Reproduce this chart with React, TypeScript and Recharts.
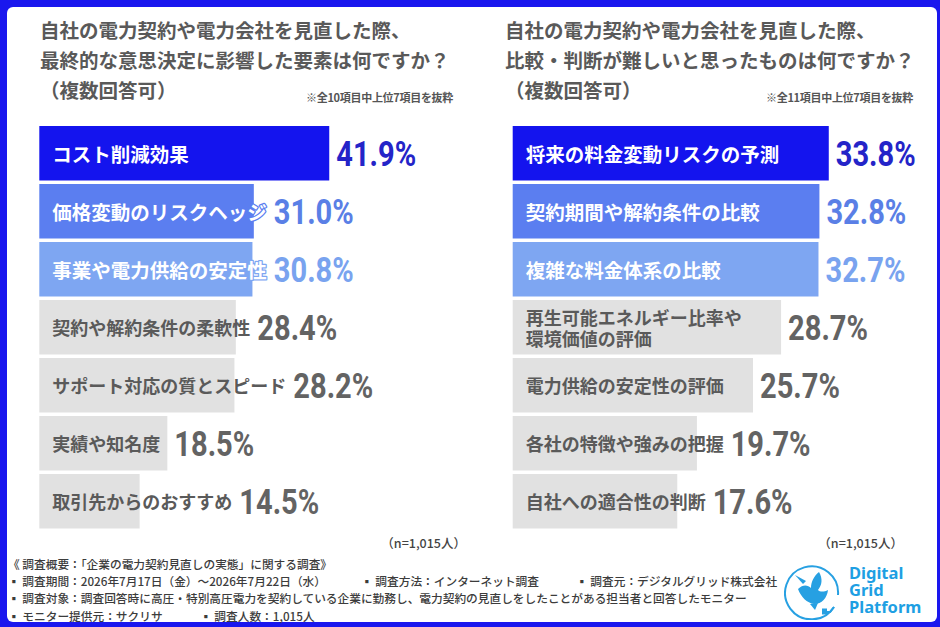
import React from 'react'
import { BarChart, Bar, XAxis, YAxis } from 'recharts'

const leftCategories = [
  'コスト削減効果',
  '価格変動のリスクヘッジ',
  '事業や電力供給の安定性',
  '契約や解約条件の柔軟性',
  'サポート対応の質とスピード',
  '実績や知名度',
  '取引先からのおすすめ',
]
const leftValues = [41.9, 31.0, 30.8, 28.4, 28.2, 18.5, 14.5]

const rightCategories = [
  '将来の料金変動リスクの予測',
  '契約期間や解約条件の比較',
  '複雑な料金体系の比較',
  '再生可能エネルギー比率や\n環境価値の評価',
  '電力供給の安定性の評価',
  '各社の特徴や強みの把握',
  '自社への適合性の判断',
]
const rightValues = [33.8, 32.8, 32.7, 28.7, 25.7, 19.7, 17.6]

const barFills = ['#1414ee', '#5b7ef0', '#7ea6f2', '#e1e1e1', '#e1e1e1', '#e1e1e1', '#e1e1e1']
const valueFills = ['#2424c8', '#5a7fe6', '#79a3ef', '#636363', '#636363', '#636363', '#636363']
const labelFills = ['#ffffff', '#ffffff', '#ffffff', '#5a5a5a', '#5a5a5a', '#5a5a5a', '#5a5a5a']

const JP = '"Noto Sans CJK JP", "Noto Sans", sans-serif'

let ctx: CanvasRenderingContext2D | null = null
const measure = (text: string, font: string, size: number) => {
  if (!ctx && typeof document !== 'undefined') ctx = document.createElement('canvas').getContext('2d')
  if (!ctx) return text.length * size
  ctx.font = font
  return ctx.measureText(text).width
}

const makeShape = (cats: string[]) => (props: any) => {
  const { x, y, width, height, payload } = props
  const i = cats.indexOf(payload.name)
  const colored = i < 3
  const size = colored ? 19.5 : 18
  const font = `700 ${size}px ${JP}`
  const lines = String(payload.name).split('\n')
  const labelW = Math.max(...lines.map((l) => measure(l, font, size)))
  const cy = y + height / 2
  const vx = Math.max(x + width, x + 13 + labelW) + 7
  const lineGap = 21
  return (
    <g>
      <rect x={x} y={y} width={width} height={height} fill={barFills[i]} />
      {lines.map((l, k) => (
        <text
          key={k}
          x={x + 13}
          y={cy + (k - (lines.length - 1) / 2) * lineGap}
          dominantBaseline="central"
          fontFamily={JP}
          fontWeight={700}
          fontSize={size}
          fill={labelFills[i]}
          stroke={colored ? barFills[i] : 'none'}
          strokeWidth={colored ? 2.5 : 0}
          strokeLinejoin="round"
          paintOrder="stroke"
        >
          {l}
        </text>
      ))}
      <text
        transform={`translate(${vx},${cy + 12.5}) scale(0.83,1)`}
        fontFamily="Roboto, sans-serif"
        fontWeight={700}
        fontSize={35}
        fill={valueFills[i]}
      >
        {`${payload.value.toFixed(1)}%`}
      </text>
    </g>
  )
}

function Panel({ cats, vals, max, left, marginLeft, plotWidth }: any) {
  const data = cats.map((name: string, k: number) => ({ name, value: vals[k] }))
  return (
    <div style={{ position: 'absolute', left, top: 123.5 }}>
      <BarChart
        width={470}
        height={406}
        layout="vertical"
        data={data}
        margin={{ top: 0, bottom: 0, left: marginLeft, right: 470 - marginLeft - plotWidth }}
        barCategoryGap={1.5}
      >
        <XAxis type="number" domain={[0, max]} hide />
        <YAxis type="category" dataKey="name" hide width={0} />
        <Bar dataKey="value" barSize={54.5} isAnimationActive={false} shape={makeShape(cats)} />
      </BarChart>
    </div>
  )
}

const titleStyle: React.CSSProperties = {
  position: 'absolute',
  top: 15,
  fontFamily: JP,
  fontWeight: 700,
  fontSize: 19.5,
  lineHeight: '30px',
  color: '#595959',
  whiteSpace: 'nowrap',
}
const noteStyle: React.CSSProperties = {
  position: 'absolute',
  top: 89,
  fontFamily: JP,
  fontWeight: 700,
  fontSize: 11,
  lineHeight: '16px',
  color: '#555',
  textAlign: 'right',
  letterSpacing: -0.3,
}
const nStyle: React.CSSProperties = {
  position: 'absolute',
  top: 535,
  fontFamily: JP,
  fontWeight: 500,
  fontSize: 12.5,
  lineHeight: '16px',
  color: '#444',
}
const footStyle: React.CSSProperties = {
  position: 'absolute',
  fontFamily: JP,
  fontWeight: 500,
  fontSize: 11.7,
  lineHeight: '17px',
  color: '#3c3c3c',
  whiteSpace: 'nowrap',
}
const logoText: React.CSSProperties = {
  position: 'absolute',
  left: 849,
  fontFamily: '"Noto Sans", sans-serif',
  fontWeight: 700,
  fontSize: 16.5,
  lineHeight: '16px',
  color: '#1e9fe3',
}

function Logo() {
  const c = '#27a0e2'
  return (
    <svg style={{ position: 'absolute', left: 784, top: 560 }} width={60} height={60}>
      <path d="M 50 47 A 26.5 26.5 0 1 1 54 35" fill="none" stroke={c} strokeWidth={2} />
      <path d="M 50 47 L 46 52 L 42 52" fill="none" stroke={c} strokeWidth={2} />
      <rect x={38} y={48.5} width={5} height={6} fill={c} />
      <path
        d="M 14 29 C 17 37 23 43 30 44 C 38 44 43 38 44 30 C 40 32 36 32 34 30 C 38 25 39 19 35 12 C 30 16 27 22 27 28 C 24 25 19 24 14 29 Z"
        fill={c}
      />
      <path d="M 19 24 L 11 15 L 22 21 Z" fill={c} />
      <path d="M 26 44 L 31 50 L 34 43 Z" fill={c} />
    </svg>
  )
}

export default function App() {
  return (
    <div style={{ position: 'absolute', left: 0, top: 0, width: 940, height: 627, background: '#1a17ee', overflow: 'hidden' }}>
      <div
        style={{ position: 'absolute', left: 7, top: 7, width: 930, height: 615, background: '#ffffff', borderRadius: 6 }}
      />
      <div style={{ ...titleStyle, left: 40 }}>
        自社の電力契約や電力会社を見直した際、
        <br />
        最終的な意思決定に影響した要素は何ですか？
        <br />
        （複数回答可）
      </div>
      <div style={{ ...noteStyle, right: 940 - 453 }}>※全10項目中上位7項目を抜粋</div>
      <div style={{ ...titleStyle, left: 505 }}>
        自社の電力契約や電力会社を見直した際、
        <br />
        比較・判断が難しいと思ったものは何ですか？
        <br />
        （複数回答可）
      </div>
      <div style={{ ...noteStyle, right: 940 - 913 }}>※全11項目中上位7項目を抜粋</div>

      <Panel cats={leftCategories} vals={leftValues} max={60} left={0} marginLeft={39.3} plotWidth={415.2} />
      <Panel cats={rightCategories} vals={rightValues} max={45} left={470} marginLeft={42.7} plotWidth={420.8} />

      <div style={{ ...nStyle, right: 940 - 466 }}>（n=1,015人）</div>
      <div style={{ ...nStyle, right: 940 - 903 }}>（n=1,015人）</div>

      <div style={{ ...footStyle, left: 8, top: 554.5 }}>《 調査概要：「企業の電力契約見直しの実態」に関する調査》</div>
      <div style={{ ...footStyle, left: 8, top: 571.5 }}>▪ 調査期間：2026年7月17日（金）～2026年7月22日（水）</div>
      <div style={{ ...footStyle, left: 361, top: 571.5 }}>▪ 調査方法：インターネット調査</div>
      <div style={{ ...footStyle, left: 576, top: 571.5 }}>▪ 調査元：デジタルグリッド株式会社</div>
      <div style={{ ...footStyle, left: 8, top: 589 }}>
        ▪ 調査対象：調査回答時に高圧・特別高圧電力を契約している企業に勤務し、電力契約の見直しをしたことがある担当者と回答したモニター
      </div>
      <div style={{ ...footStyle, left: 8, top: 606.5 }}>▪ モニター提供元：サクリサ</div>
      <div style={{ ...footStyle, left: 200, top: 606.5 }}>▪ 調査人数：1,015人</div>

      <Logo />
      <div style={{ ...logoText, top: 564.5 }}>Digital</div>
      <div style={{ ...logoText, top: 581.5 }}>Grid</div>
      <div style={{ ...logoText, top: 599 }}>Platform</div>
    </div>
  )
}
